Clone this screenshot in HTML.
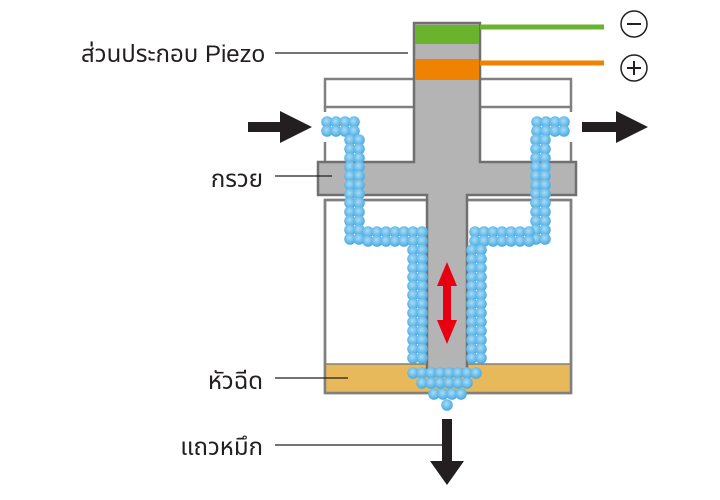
<!DOCTYPE html>
<html><head><meta charset="utf-8"><style>
body{margin:0;background:#fff;width:720px;height:500px;overflow:hidden}
svg{display:block}
text{font-family:"Liberation Sans","Noto Sans Thai","Loma","Garuda","DejaVu Sans",sans-serif;font-size:24px;fill:#231f20}
</style></head><body>
<svg id="s" width="720" height="500" viewBox="0 0 720 500" xmlns="http://www.w3.org/2000/svg">
<defs><radialGradient id="b" cx="0.45" cy="0.4" r="0.6"><stop offset="0" stop-color="#a9dcf6"/><stop offset="1" stop-color="#45a9e2"/></radialGradient></defs>
<g fill="none" stroke="#808080" stroke-width="2.5">
<rect x="325" y="79" width="246" height="28" fill="#fff"/>
<line x1="325" y1="107" x2="325" y2="112"/><line x1="325" y1="142" x2="325" y2="162"/>
<line x1="571" y1="107" x2="571" y2="112"/><line x1="571" y1="142" x2="571" y2="162"/>
<rect x="325" y="200" width="246" height="193" fill="#fff"/>
</g>
<rect x="326" y="364" width="244" height="28" fill="#e8b95a"/>
<line x1="325" y1="364" x2="571" y2="364" stroke="#808080" stroke-width="1.5"/>
<rect x="325" y="200" width="246" height="193" fill="none" stroke="#808080" stroke-width="2.5"/>
<path d="M414,23 H480 V162 H576 V195 H467 V370 H427 V195 H318 V162 H414 Z" fill="#b4b4b4" stroke="#707070" stroke-width="2.5"/>
<rect x="415" y="25" width="64" height="19" fill="#6ab42d"/>
<rect x="415" y="59" width="64" height="21" fill="#ef8200"/>
<line x1="480" y1="27" x2="604" y2="27" stroke="#6ab42d" stroke-width="5"/>
<line x1="480" y1="63" x2="604" y2="63" stroke="#ef8200" stroke-width="5"/>
<circle cx="634" cy="24" r="13" fill="#fff" stroke="#231f20" stroke-width="1.5"/>
<line x1="627" y1="24" x2="641" y2="24" stroke="#231f20" stroke-width="2"/>
<circle cx="634" cy="68" r="13" fill="#fff" stroke="#231f20" stroke-width="1.5"/>
<line x1="627" y1="68" x2="641" y2="68" stroke="#231f20" stroke-width="2"/>
<line x1="634" y1="61" x2="634" y2="75" stroke="#231f20" stroke-width="2"/>
<g id="bub"></g>
<path d="M447,262 L457,286 H451 V320 H457 L447,344 L437,320 H443 V286 H437 Z" fill="#e60012"/>
<path d="M248,122 H280 V111 L312,127 L280,143 V132 H248 Z" fill="#231f20"/>
<path d="M582,122 H616 V111 L648,127 L616,143 V132 H582 Z" fill="#231f20"/>
<path d="M442,419 H452 V461 H464 L447,485 L430,461 H442 Z" fill="#231f20"/>
<g stroke="#231f20" stroke-width="1.2">
<line x1="275" y1="53" x2="408" y2="53"/>
<line x1="275" y1="176" x2="332" y2="176"/>
<line x1="275" y1="378" x2="348" y2="378"/>
<line x1="275" y1="445" x2="443" y2="445"/>
</g>
<text x="265" y="62" text-anchor="end">ส่วนประกอบ Piezo</text>
<text x="263" y="187" text-anchor="end">กรวย</text>
<text x="263" y="389" text-anchor="end">หัวฉีด</text>
<text x="263" y="455" text-anchor="end">แถวหมึก</text>
</svg>
<script>
var g=document.getElementById('bub'),pts=[];
function c(x,y){pts.push([x,y]);}
var s=9;
for(var x=327;x<=361;x+=s){c(x,122);c(x,131);}
for(var x=537;x<=571;x+=s){c(x,122);c(x,131);}
for(var y=140;y<=241;y+=s){c(350,y);c(359,y);c(536,y);c(545,y);}
for(var x=368;x<=430;x+=s){c(x,232);c(x,241);}
for(var x=475;x<=530;x+=s){c(x,232);c(x,241);}
for(var y=250;y<=365;y+=s){c(413,y);c(422,y);c(472,y);c(481,y);}
for(var x=413;x<=482;x+=s)c(x,373);
for(var x=422;x<=473;x+=s)c(x,383);
for(var x=434;x<=461;x+=s)c(x,394);
c(447,405);
var h='';pts.forEach(function(p){h+='<circle cx="'+p[0].toFixed(1)+'" cy="'+p[1].toFixed(1)+'" r="5.8" fill="url(#b)"/>';});
g.innerHTML=h;
</script>
</body></html>
